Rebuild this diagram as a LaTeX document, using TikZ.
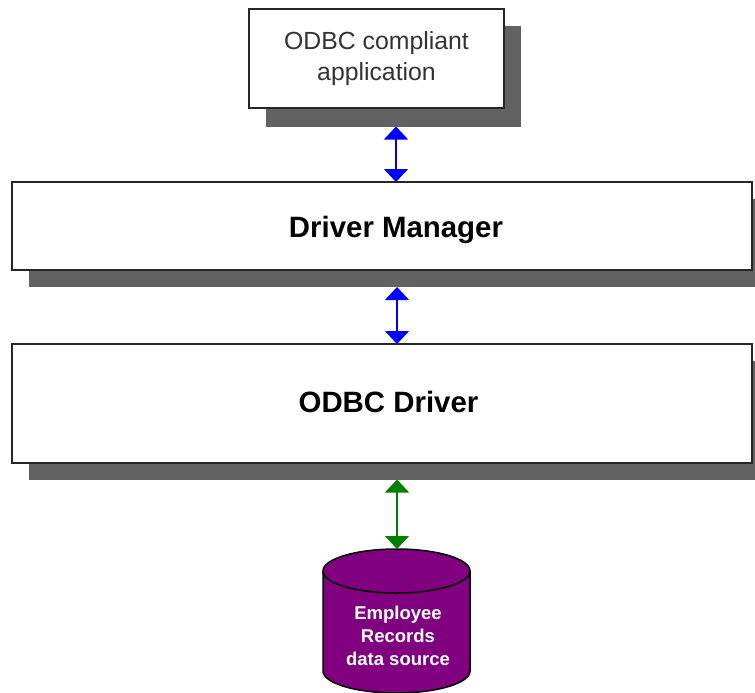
\documentclass[tikz,border=0pt]{standalone}
\usepackage{fontspec}
\setmainfont{Liberation Sans}
\usetikzlibrary{arrows.meta}
\definecolor{shadowgrey}{HTML}{626262}
\definecolor{dbpurple}{HTML}{800080}
\definecolor{linkblue}{HTML}{0000FF}
\definecolor{linkgreen}{HTML}{008000}
\tikzset{
  x=1pt,y=-1pt,
  boxshape/.style={rectangle,draw=black!85,line width=1.5pt,fill=white,inner sep=0pt,outer sep=0pt,align=center},
  shadowshape/.style={rectangle,fill=shadowgrey,draw=none,inner sep=0pt,outer sep=0pt},
  lighttext/.style={font=\fontsize{24.8}{30.5}\selectfont,text=black!80},
  boldtext/.style={font=\fontsize{29.4}{34}\selectfont\bfseries},
  dbshape/.style={draw=black,line width=1.5pt,fill=dbpurple},
  twoway/.style={{Triangle[length=13pt,width=24pt]}-{Triangle[length=13pt,width=24pt]},line width=1.5pt},
}
\begin{document}
\begin{tikzpicture}
\clip (0,0) rectangle (755,693);
\fill[white] (0,0) rectangle (755,693);
% shadows
\node[shadowshape,minimum width=255pt,minimum height=100pt] (appshadow) at (393.5,76.5) {};
\node[shadowshape,minimum width=740pt,minimum height=88pt] (mgrshadow) at (399,243) {};
\node[shadowshape,minimum width=740pt,minimum height=119pt] (drvshadow) at (399,420) {};
% boxes
\node[boxshape,lighttext,minimum width=255pt,minimum height=99pt] (app) at (376.5,58.5) {ODBC compliant\\application};
\node[boxshape,minimum width=740pt,minimum height=88pt] (mgr) at (382,226) {};
\node[boxshape,minimum width=740pt,minimum height=119pt] (drv) at (382,403.5) {};
\node[boldtext] (mgrlabel) at (396,230) {Driver Manager};
\node[boldtext] (drvlabel) at (388.5,402) {ODBC Driver};
% data source
\coordinate (dbtop) at (397,549);
\path[dbshape] (323,571) -- (323,671) arc[start angle=180,end angle=360,x radius=73.5pt,y radius=22pt]
  -- (470,571) arc[start angle=0,end angle=180,x radius=73.5pt,y radius=22pt] -- cycle;
\draw[line width=1.5pt,black] (323,571) arc[start angle=180,end angle=360,x radius=73.5pt,y radius=22pt];
\node[text=white,align=center,font=\fontsize{18.5}{23}\selectfont\bfseries] (dblabel) at (398,636) {Employee\\Records\\data source};
% links
\draw[twoway,draw=linkblue,fill=linkblue] ([xshift=2.5pt]appshadow.south) -- ([xshift=14pt]mgr.north);
\draw[twoway,draw=linkblue,fill=linkblue] ([xshift=-2pt]mgrshadow.south) -- ([xshift=15pt]drv.north);
\draw[twoway,draw=linkgreen,fill=linkgreen] ([xshift=-2pt]drvshadow.south) -- (dbtop);
\end{tikzpicture}
\end{document}
